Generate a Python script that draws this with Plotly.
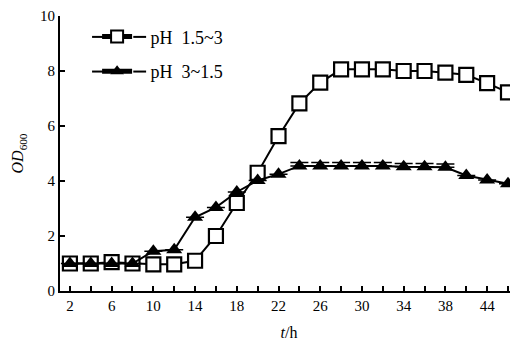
import plotly.graph_objects as go

hours = [2, 4, 6, 8, 10, 12, 14, 16, 18, 20, 22, 24, 26, 28, 30, 32, 34, 36, 38, 40, 42, 44]
od_ph_15_3 = [1.0, 1.0, 1.05, 1.0, 0.97, 0.97, 1.1, 2.0, 3.2, 4.3, 5.63, 6.82, 7.58, 8.06, 8.06, 8.06, 8.0, 8.0, 7.94, 7.86, 7.56, 7.22]
err_ph_15_3 = [0, 0, 0, 0, 0, 0, 0, 0, 0, 0, 0, 0, 0, 0, 0, 0, 0, 0.08, 0, 0.08, 0, 0]
od_ph_3_15 = [1.0, 1.0, 1.0, 1.0, 1.45, 1.5, 2.68, 3.04, 3.6, 4.02, 4.25, 4.55, 4.55, 4.55, 4.55, 4.55, 4.52, 4.52, 4.5, 4.2, 4.04, 3.9]
err_ph_3_15 = [0, 0, 0, 0, 0, 0, 0, 0, 0, 0, 0, 0.12, 0.12, 0.12, 0.12, 0.12, 0.12, 0.12, 0.12, 0, 0, 0]
series_names = ["pH 1.5~3", "pH 3~1.5"]

x_tickvals = [2, 6, 10, 14, 18, 22, 26, 30, 34, 38, 42]
x_ticktext = ["2", "6", "10", "14", "18", "22", "26", "30", "34", "38", "44"]
y_tickvals = [0, 2, 4, 6, 8, 10]

FONT = "Liberation Serif, Times New Roman, serif"
NB = "\u00a0"


def legend_label(name):
    # wider spacing as in the reference legend
    return NB * 3 + name.replace(" ", NB * 2)


styles = [
    dict(line=dict(color="black", width=2),
         marker=dict(symbol="square", size=14, color="white", line=dict(width=2.2, color="black"))),
    dict(line=dict(color="black", width=2),
         marker=dict(symbol="triangle-up", size=14, color="black")),
]
series = [(od_ph_15_3, err_ph_15_3, 2, 7), (od_ph_3_15, err_ph_3_15, 1.5, 9)]
legends = ["legend", "legend2"]

fig = go.Figure()
for (vals, errs, thick, w), st, name in zip(series, styles, series_names):
    fig.add_trace(go.Scatter(
        x=hours, y=vals, name=name, mode="lines+markers", showlegend=False,
        error_y=dict(type="data", array=errs, symmetric=False, arrayminus=[0]*len(hours),
                     color="black", thickness=thick, width=w),
        **st,
    ))
# legend entries (no error-bar glyph in the legend)
for st, name, lg in zip(styles, series_names, legends):
    fig.add_trace(go.Scatter(x=[None], y=[None], name=legend_label(name),
                             mode="lines+markers", legend=lg, showlegend=True, **st))

legend_common = dict(xanchor="left", yanchor="middle", bgcolor="rgba(0,0,0,0)",
                     font=dict(family=FONT, size=18, color="black"), borderwidth=0,
                     itemsizing="constant")

# extend the legend sample lines to the reference length (only beyond the legend's own line)
legend_line_rows = [0.924, 0.798]
shapes = []
for yy in legend_line_rows:
    for x0, x1 in [(0.070, 0.094), (0.160, 0.188)]:
        shapes.append(dict(type="line", xref="paper", yref="paper", x0=x0, x1=x1, y0=yy, y1=yy,
                           line=dict(color="black", width=2), layer="above"))

fig.update_layout(
    width=510, height=336,
    margin=dict(l=52, r=0, t=6, b=53),
    paper_bgcolor="white", plot_bgcolor="white",
    font=dict(family=FONT, size=15, color="black"),
    showlegend=True,
    legend=dict(x=0.081, y=legend_line_rows[0], **legend_common),
    legend2=dict(x=0.081, y=legend_line_rows[1], **legend_common),
    shapes=shapes,
    xaxis=dict(
        range=[1.05, 44.96], showline=True, linecolor="black", linewidth=2,
        tickvals=x_tickvals, ticktext=x_ticktext, ticks="inside", ticklen=5,
        tickwidth=1.5, tickcolor="black", showgrid=False, zeroline=False,
        minor=dict(tickmode="linear", tick0=0, dtick=2, ticks="inside", ticklen=5,
                   tickwidth=1.5, tickcolor="black", showgrid=False),
        tickfont=dict(family=FONT, size=15), ticklabeloverflow="allow",
        title=dict(text="<i>t</i>/h", font=dict(family=FONT, size=16), standoff=14),
    ),
    yaxis=dict(
        range=[0, 10], showline=True, linecolor="black", linewidth=2,
        tickvals=y_tickvals, ticks="inside", ticklen=5, tickwidth=1.5,
        tickcolor="black", showgrid=False, zeroline=False,
        tickfont=dict(family=FONT, size=15), ticklabeloverflow="allow",
        title=dict(text="<i>OD</i><sub>600</sub>", font=dict(family=FONT, size=16), standoff=12),
    ),
)

fig.write_html("out.html")
